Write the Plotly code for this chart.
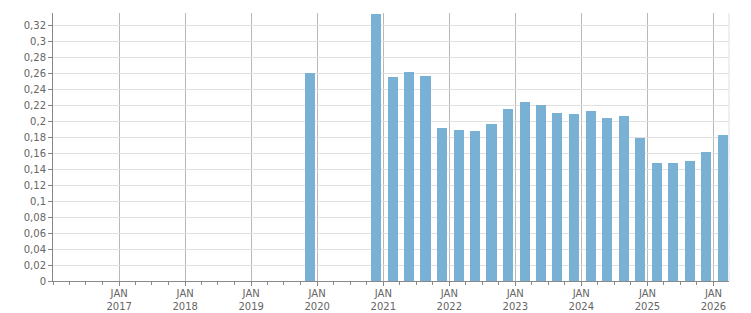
import plotly.graph_objects as go

dates = ["2019-11-22", "2020-11-22",
         "2021-02-22", "2021-05-22", "2021-08-22", "2021-11-22",
         "2022-02-22", "2022-05-22", "2022-08-22", "2022-11-22",
         "2023-02-22", "2023-05-22", "2023-08-22", "2023-11-22",
         "2024-02-22", "2024-05-22", "2024-08-22", "2024-11-22",
         "2025-02-22", "2025-05-22", "2025-08-22", "2025-11-22",
         "2026-02-22"]
values = [0.261, 0.335,
          0.256, 0.262, 0.257, 0.192,
          0.189, 0.188, 0.197, 0.216,
          0.224, 0.221, 0.211, 0.2095,
          0.213, 0.2045, 0.207, 0.179,
          0.148, 0.148, 0.1505, 0.162,
          0.183]

x_tick_vals = [f"{y}-01-01" for y in range(2017, 2027)]
x_tick_text = [f"JAN<br>{y}" for y in range(2017, 2027)]
y_tick_vals = [round(i * 0.02, 2) for i in range(17)]
y_tick_text = ["0", "0,02", "0,04", "0,06", "0,08", "0,1", "0,12", "0,14", "0,16",
               "0,18", "0,2", "0,22", "0,24", "0,26", "0,28", "0,3", "0,32"]

bar_width_ms = 56 * 86400000

fig = go.Figure(go.Bar(
    x=dates, y=values,
    width=[bar_width_ms] * len(dates),
    marker=dict(color="#78b1d3", line=dict(width=0)),
    hoverinfo="x+y",
))

fig.update_layout(
    width=751, height=313,
    margin=dict(l=53, r=22, t=13, b=32),
    paper_bgcolor="white", plot_bgcolor="white",
    showlegend=False,
    font=dict(family="DejaVu Sans", size=10, color="#666666"),
    xaxis=dict(
        type="date",
        automargin=False,
        range=["2016-01-01", "2026-03-28"],
        tickvals=x_tick_vals, ticktext=x_tick_text,
        showgrid=True, gridcolor="#b8b8b8", gridwidth=1,
        ticks="outside", ticklen=4, tickcolor="#888888",
        ticklabelstandoff=-1,
        showline=True, linecolor="#888888", linewidth=1,
        minor=dict(dtick="M3", tick0="2016-01-01", ticks="outside", ticklen=3,
                   tickcolor="#888888", showgrid=False),
        tickfont=dict(size=10, color="#666666"),
        zeroline=False,
    ),
    yaxis=dict(
        automargin=False,
        range=[0, 0.336],
        tickvals=y_tick_vals, ticktext=y_tick_text,
        showgrid=True, gridcolor="#e0e0e0", gridwidth=1,
        ticks="outside", ticklen=4, tickcolor="#888888",
        showline=True, linecolor="#888888", linewidth=1,
        tickfont=dict(size=10, color="#666666"),
        zeroline=False,
    ),
    bargap=0,
    shapes=[dict(type="line", xref="paper", yref="paper", x0=1, x1=1, y0=0, y1=1,
                 line=dict(color="#e0e0e0", width=1))],
)

fig.write_html("out.html")
